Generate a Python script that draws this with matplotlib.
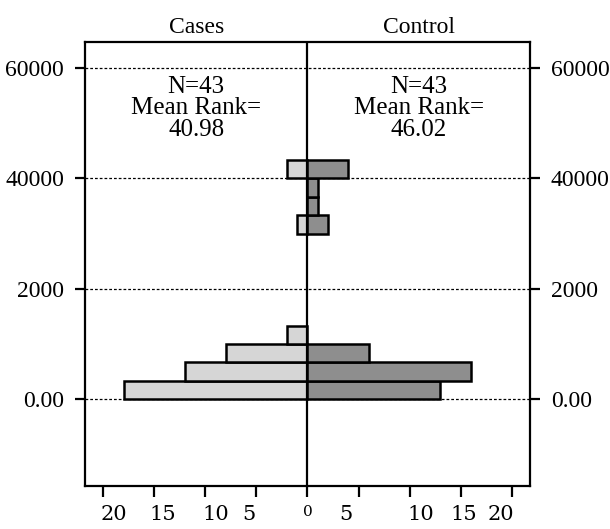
import numpy as np
import matplotlib
matplotlib.use("Agg")
import matplotlib.pyplot as plt
import matplotlib.transforms as mtransforms

# ---- data ----
bin_lower = [0, 333.3, 666.7, 1000, 1333.3, 1666.7, 2000, 2333.3, 2666.7, 3000, 3333.3, 3666.7, 4000]
bin_width = 333.3
cases_counts = [18, 12, 8, 2, 0, 0, 0, 0, 0, 1, 0, 0, 2]
control_counts = [13, 16, 6, 0, 0, 0, 0, 0, 0, 2, 1, 1, 4]
group_names = ["Cases", "Control"]
group_stats = ["N=43\nMean Rank=\n40.98", "N=43\nMean Rank=\n46.02"]
y_tick_values = [0, 2000, 4000, 6000]
y_tick_labels = ["0.00", "2000", "40000", "60000"]
x_tick_values = [-20, -15, -10, -5, 0, 5, 10, 15, 20]
x_tick_labels = ["20", "15", "10", "5", "0", "5", "10", "15", "20"]

# ---- style ----
light = "#d6d6d6"
dark = "#8e8e8e"
serif = ["Liberation Serif", "DejaVu Serif"]
plt.rcParams["font.family"] = serif

fig = plt.figure(figsize=(6.10, 5.29), dpi=100)
ax = fig.add_axes([85 / 610, 43 / 529, 445 / 610, 444 / 529])

y = np.array(bin_lower)
c1 = np.array(cases_counts)
c2 = np.array(control_counts)
m1 = c1 > 0
m2 = c2 > 0
ax.barh(y[m1], -c1[m1], height=bin_width, align="edge", color=light,
        edgecolor="black", linewidth=1.8, zorder=2)
ax.barh(y[m2], c2[m2], height=bin_width, align="edge", color=dark,
        edgecolor="black", linewidth=1.8, zorder=2)
ax.axvline(0, color="black", linewidth=1.6, zorder=3)

ymin, ymax = -1570, 6470
ax.set_xlim(-21.8, 21.8)
ax.set_ylim(ymin, ymax)

ax.set_yticks(y_tick_values)
ax.set_yticklabels(y_tick_labels, fontsize=17)
ax.yaxis.grid(True, linestyle=(0, (2.2, 1.6)), linewidth=0.9, color="black")
ax.set_axisbelow(True)
ax.tick_params(axis="y", which="both", left=True, right=True, labelleft=True,
               labelright=True, direction="out", length=7, width=1.6, pad=8)

ax.set_xticks(x_tick_values)
ax.set_xticklabels(x_tick_labels, fontsize=15, family=["DejaVu Serif"])
ax.tick_params(axis="x", direction="out", length=8, width=1.6, pad=6)

# label offsets in pixels to mimic the reference's irregular spacing
x_label_offsets = [11, 8.5, 10, -8, 0, -12.7, 11, 3, -11]
x_label_sizes = [15, 15, 15, 15, 11, 15, 15, 15, 15]
for lab, dx, fs in zip(ax.get_xticklabels(), x_label_offsets, x_label_sizes):
    lab.set_transform(lab.get_transform() +
                      mtransforms.ScaledTranslation(dx / 100, 0, fig.dpi_scale_trans))
    lab.set_fontsize(fs)

for sp in ax.spines.values():
    sp.set_linewidth(1.6)

half = 21.8 / 2
for xc, name, stats in zip([-half, half], group_names, group_stats):
    ax.text(xc, 6633, name, ha="center", va="baseline", fontsize=17,
            clip_on=False)
    ax.text(xc, 5850, stats, ha="center", va="top", fontsize=18,
            linespacing=0.95)

fig.savefig("out.png", dpi=100)
